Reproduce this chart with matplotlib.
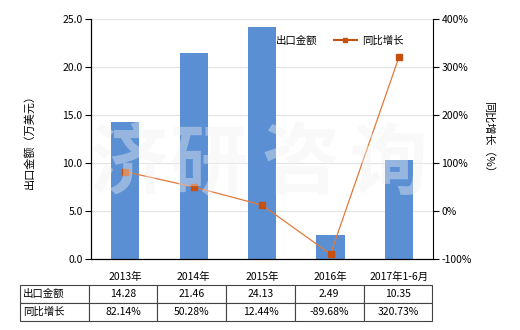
import matplotlib
matplotlib.use("Agg")
import matplotlib.pyplot as plt
from matplotlib.lines import Line2D
from matplotlib.patches import Patch

plt.rcParams['font.family'] = ['Noto Sans CJK SC', 'DejaVu Sans']

categories = ['2013年', '2014年', '2015年', '2016年', '2017年1-6月']
export_value = [14.28, 21.46, 24.13, 2.49, 10.35]
growth_pct = [82.14, 50.28, 12.44, -89.68, 320.73]
value_labels = ['14.28', '21.46', '24.13', '2.49', '10.35']
growth_labels = ['82.14%', '50.28%', '12.44%', '-89.68%', '320.73%']

bar_color = '#5B8FD4'
line_color = '#E07A3A'
marker_color = '#C5500F'
fs = 7.5

fig = plt.figure(figsize=(5.2, 3.3), dpi=100)
ax = fig.add_axes([0.175, 0.215, 0.658, 0.727])
x = list(range(len(categories)))

ax.bar(x, export_value, width=0.41, color=bar_color, zorder=2)
ax.set_xlim(-0.5, len(categories) - 0.5)
ax.set_ylim(0, 25)
ax.set_yticks([0, 5, 10, 15, 20, 25])
ax.set_yticklabels([f'{v:.1f}' for v in [0, 5, 10, 15, 20, 25]], fontsize=fs)
ax.yaxis.grid(True, color='#E3E3E3', linewidth=0.8, zorder=0)
ax.set_axisbelow(True)
ax.set_xticks(x)
ax.set_xticklabels(categories, fontsize=fs)
ax.tick_params(axis='x', length=0, pad=9)
ax.tick_params(axis='y', length=4, width=0.8, pad=2)
ax.spines['top'].set_visible(False)
ax.spines['right'].set_visible(False)
ax.set_ylabel('出口金额（万美元）', fontsize=fs + 0.5, labelpad=20)

ax2 = ax.twinx()
ax2.plot(x, growth_pct, color=line_color, linewidth=0.9, marker='s',
         markersize=4.5, markerfacecolor=marker_color,
         markeredgecolor=marker_color, zorder=3)
ax2.set_ylim(-100, 400)
ax2.set_yticks([-100, 0, 100, 200, 300, 400])
ax2.set_yticklabels([f'{v}%' for v in [-100, 0, 100, 200, 300, 400]], fontsize=fs)
ax2.tick_params(axis='y', length=4, width=0.8, pad=2)
ax2.spines['top'].set_visible(False)
ax2.set_ylabel('同比增长（%）', fontsize=fs + 0.5, rotation=-90, labelpad=16)

# watermark across the plot area
for ch, xc in zip('济研咨询', [0.108, 0.342, 0.611, 0.868]):
    ax2.text(xc, 0.39, ch, transform=ax.transAxes, fontsize=56,
             color='#F2F2F2', alpha=0.4, ha='center', va='center',
             fontweight='bold', zorder=5)

handles = [Patch(facecolor=bar_color, label='出口金额'),
           Line2D([0], [0], color=marker_color, marker='s', markersize=3,
                  linewidth=1.5, label='同比增长')]
ax2.legend(handles=handles, loc='upper left', bbox_to_anchor=(0.43, 0.97),
           ncol=2, frameon=False, fontsize=fs, handlelength=2.2,
           columnspacing=1.6, handletextpad=0.5)

rows = [['出口金额'] + value_labels, ['同比增长'] + growth_labels]
tbl = ax.table(cellText=rows, bbox=[-0.2076, -0.258, 1.205, 0.15],
               cellLoc='center', colWidths=[1.0] + [1.0] * 5)
tbl.auto_set_font_size(False)
tbl.set_fontsize(fs)
for (r, c), cell in tbl.get_celld().items():
    cell.set_edgecolor('#444444')
    cell.set_linewidth(0.8)
    if c == 0:
        cell.get_text().set_ha('left')
        cell.PAD = 0.04

fig.savefig('out.png', dpi=100)
